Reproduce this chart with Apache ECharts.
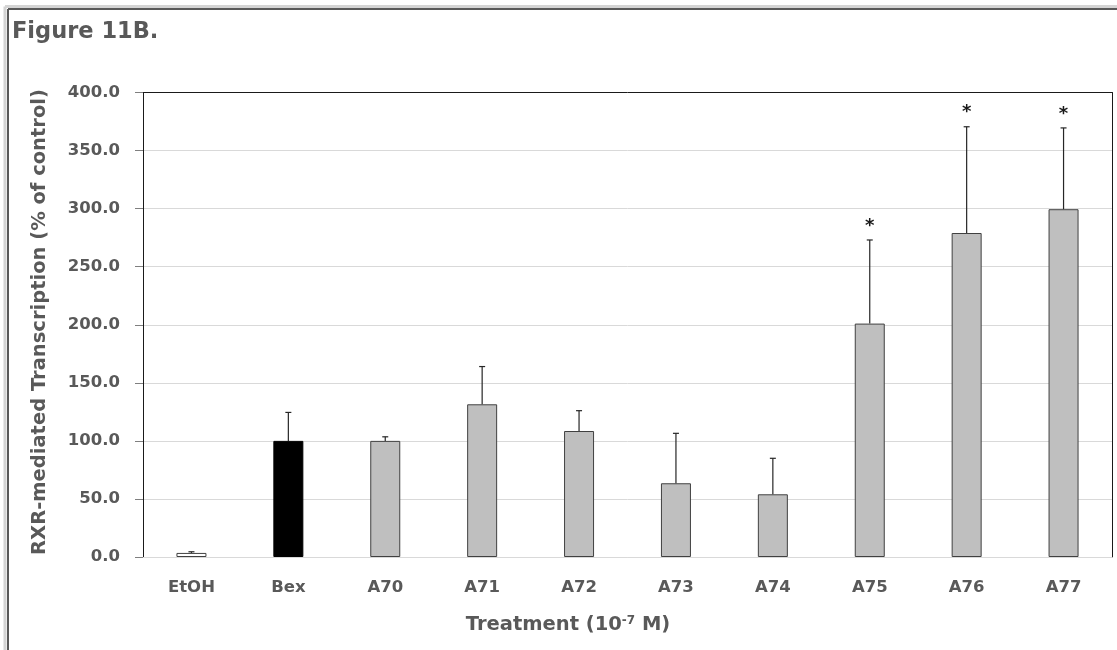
<!DOCTYPE html>
<html>
<head>
<meta charset="utf-8">
<script src="https://cdn.jsdelivr.net/npm/echarts@6/dist/echarts.min.js"></script>
<style>
  html, body { margin: 0; padding: 0; background: #fff; }
  #chart { width: 1117px; height: 650px; }
</style>
</head>
<body>
<div id="chart"></div>
<script>
// Treatments (10^-7 M) and their RXR-mediated transcription, % of control
const categories = ['EtOH', 'Bex', 'A70', 'A71', 'A72', 'A73', 'A74', 'A75', 'A76', 'A77'];
const means = [3.5, 100, 100, 131.5, 108.5, 63.5, 54, 201, 279, 299.5];
const errors = [1, 24.5, 3.5, 32.5, 17.5, 43, 31, 72, 91.5, 70];
const marks = ['', '', '', '', '', '', '', '*', '*', '*'];
const yTicks = { min: 0, max: 400, step: 50 };

const FONT = '"DejaVu Sans", sans-serif';
const TEXT = '#595959';

const fills = { EtOH: '#ffffff', Bex: '#000000' };
const barData = categories.map((c, i) => ({
  value: means[i],
  itemStyle: {
    color: fills[c] || '#bfbfbf',
    borderColor: c === 'Bex' ? '#000000' : '#404040',
    borderWidth: 1
  }
}));

const errData = categories.map((c, i) => [i, means[i], means[i] + errors[i], marks[i]]);

const chart = echarts.init(document.getElementById('chart'), null, { renderer: 'canvas' });

chart.setOption({
  animation: false,
  backgroundColor: '#ffffff',
  grid: { left: 143, right: 5, top: 92.5, bottom: 93, containLabel: false },
  xAxis: [
    {
      type: 'category',
      data: categories,
      axisLine: { show: true, onZero: false, lineStyle: { color: '#d9d9d9', width: 1 } },
      axisTick: { show: false },
      axisLabel: { margin: 22, fontFamily: FONT, fontWeight: 'bold', fontSize: 16.5, color: TEXT }
    },
    {
      type: 'category',
      position: 'top',
      data: categories,
      axisLine: { show: true, onZero: false, lineStyle: { color: '#1a1a1a', width: 1 } },
      axisTick: { show: false },
      axisLabel: { show: false }
    }
  ],
  yAxis: [
    {
      type: 'value',
      min: yTicks.min,
      max: yTicks.max,
      interval: yTicks.step,
      axisLine: { show: true, onZero: false, lineStyle: { color: '#1a1a1a', width: 1 } },
      axisTick: { show: true, length: 8, lineStyle: { color: '#7f7f7f' } },
      axisLabel: {
        margin: 23,
        fontFamily: FONT, fontWeight: 'bold', fontSize: 16.5, color: TEXT,
        formatter: v => v.toFixed(1)
      },
      splitLine: { show: true, lineStyle: { color: '#d9d9d9', width: 1 } }
    },
    {
      type: 'value',
      position: 'right',
      min: yTicks.min,
      max: yTicks.max,
      interval: yTicks.step,
      axisLine: { show: true, onZero: false, lineStyle: { color: '#1a1a1a', width: 1 } },
      axisTick: { show: false },
      axisLabel: { show: false },
      splitLine: { show: false }
    }
  ],
  series: [
    {
      type: 'bar',
      data: barData,
      barWidth: 30,
      z: 2
    },
    {
      type: 'custom',
      data: errData,
      z: 3,
      renderItem: function (params, api) {
        const x = api.coord([api.value(0), api.value(1)])[0];
        const y0 = api.coord([api.value(0), api.value(1)])[1];
        const y1 = api.coord([api.value(0), api.value(2)])[1];
        const style = { stroke: '#262626', lineWidth: 1.2 };
        const children = [
          { type: 'line', shape: { x1: x, y1: y0, x2: x, y2: y1 }, style: style },
          { type: 'line', shape: { x1: x - 3, y1: y1, x2: x + 3, y2: y1 }, style: style }
        ];
        const mark = api.value(3);
        if (mark) {
          children.push({
            type: 'text',
            style: {
              text: mark, x: x, y: y1 - 14,
              align: 'center', verticalAlign: 'middle',
              font: 'bold 18px ' + FONT, fill: '#1a1a1a'
            }
          });
        }
        return { type: 'group', children: children };
      }
    }
  ],
  graphic: [
    // outer figure frame (top and left edges)
    { type: 'line', shape: { x1: 5, y1: 6.5, x2: 1117, y2: 6.5 }, style: { stroke: '#d4d4d4', lineWidth: 3 }, silent: true },
    { type: 'line', shape: { x1: 5, y1: 6.5, x2: 5, y2: 650 }, style: { stroke: '#d4d4d4', lineWidth: 3 }, silent: true },
    { type: 'line', shape: { x1: 8, y1: 9, x2: 1117, y2: 9 }, style: { stroke: '#595959', lineWidth: 2 }, silent: true },
    { type: 'line', shape: { x1: 8, y1: 9, x2: 8, y2: 650 }, style: { stroke: '#595959', lineWidth: 2 }, silent: true },
    {
      type: 'text', left: 12, top: 21,
      style: { text: 'Figure 11B.', font: 'bold 22.5px ' + FONT, fill: TEXT }
    },
    {
      type: 'text', x: 40, y: 322, rotation: Math.PI / 2,
      style: {
        text: 'RXR-mediated Transcription (% of control)',
        font: 'bold 19.5px ' + FONT, fill: TEXT,
        align: 'center', verticalAlign: 'middle'
      }
    },
    {
      type: 'text', x: 568, y: 625,
      style: {
        text: '{b|Treatment (10}{s|-7}{b| M)}',
        align: 'center', verticalAlign: 'middle',
        fill: TEXT,
        font: 'bold 19.5px ' + FONT,
        rich: {
          b: { fontFamily: FONT, fontWeight: 'bold', fontSize: 19.5, fill: TEXT },
          s: { fontFamily: FONT, fontWeight: 'bold', fontSize: 12, fill: TEXT, verticalAlign: 'top', padding: [0, 0, 8, 0] }
        }
      }
    }
  ]
});
</script>
</body>
</html>
